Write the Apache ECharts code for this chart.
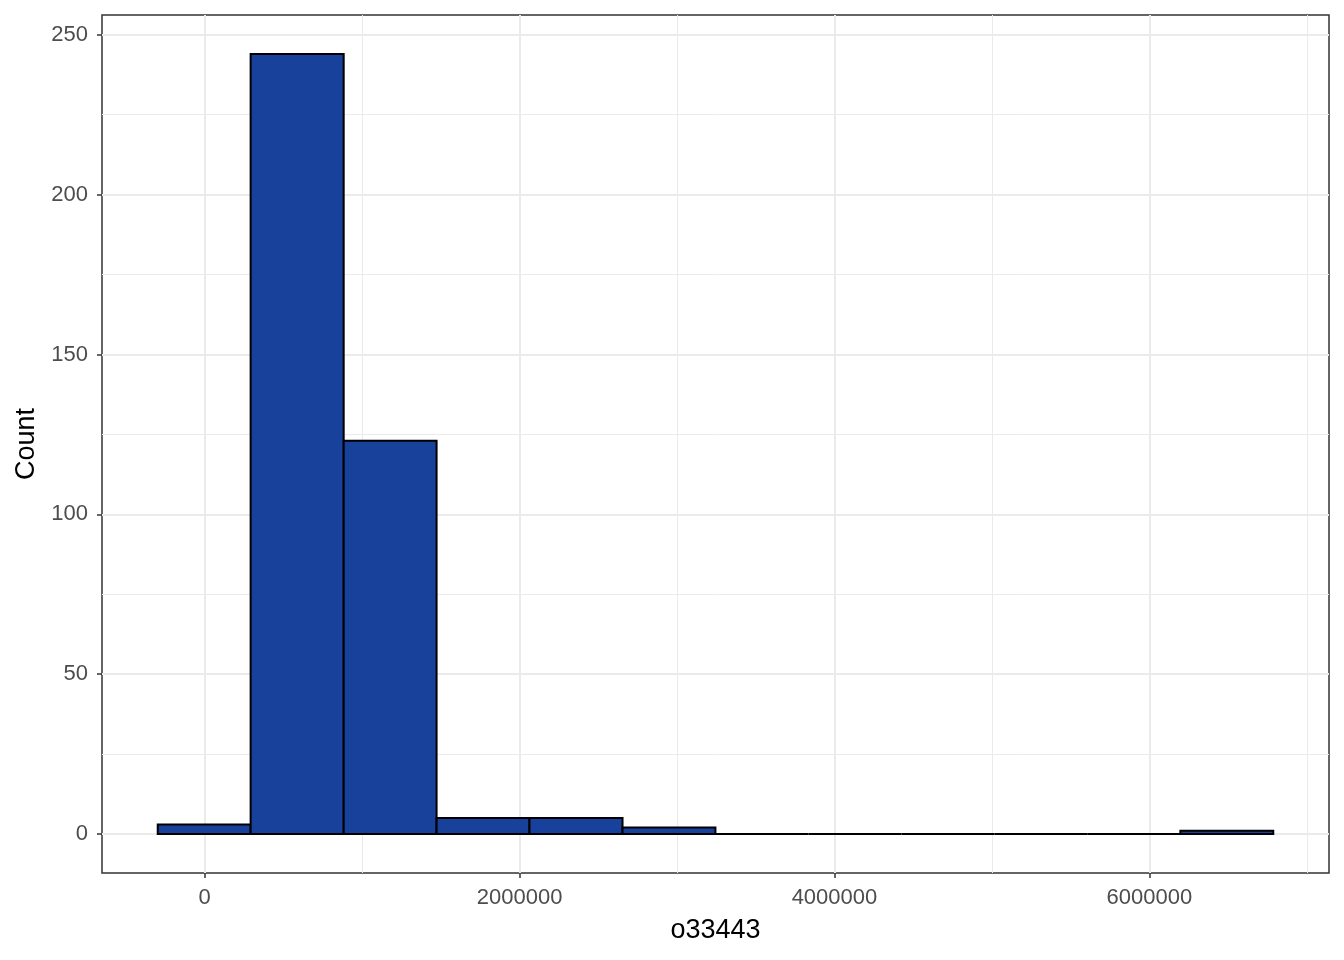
<!DOCTYPE html>
<html>
<head>
<meta charset="utf-8">
<script src="https://cdn.jsdelivr.net/npm/echarts@6/dist/echarts.min.js"></script>
<style>
html,body{margin:0;padding:0;background:#fff;}
#chart{width:1344px;height:960px;}
</style>
</head>
<body>
<div id="chart"></div>
<script>
// Histogram bins of o33443 (bin start / end edges) and counts
const binStarts = [-298000, 292000, 883000, 1473000, 2063000, 2654000, 3244000, 3835000, 4425000, 5016000, 5606000, 6197000];
const binEnds   = [292000, 883000, 1473000, 2063000, 2654000, 3244000, 3835000, 4425000, 5016000, 5606000, 6197000, 6787000];
const counts    = [3, 244, 123, 5, 5, 2, 0, 0, 0, 0, 0, 1];

const xTicks      = [0, 2000000, 4000000, 6000000];
const xMinorTicks = [1000000, 3000000, 5000000, 7000000];
const yTicks      = [0, 50, 100, 150, 200, 250];
const yMinorTicks = [25, 75, 125, 175, 225];

const xRange = [-652000, 7141000];
const yRange = [-12.2, 256.2];

const data = binStarts.map((s, i) => [s, binEnds[i], counts[i]]);

const chart = echarts.init(document.getElementById('chart'), null, {renderer: 'canvas'});
const font = 'Liberation Sans, Arial, sans-serif';

chart.setOption({
  animation: false,
  backgroundColor: '#ffffff',
  grid: {
    left: 102, right: 15, top: 15, bottom: 87,
    show: true, borderColor: '#333333', borderWidth: 1.5, backgroundColor: 'transparent'
  },
  xAxis: [{
    type: 'value', min: xRange[0], max: xRange[1], position: 'bottom',
    name: 'o33443', nameLocation: 'middle', nameGap: 44,
    nameTextStyle: {color: '#000', fontSize: 27, fontFamily: font},
    axisLine: {show: false, onZero: false},
    axisTick: {show: true, length: 5, lineStyle: {color: '#333333', width: 1.5}, customValues: xTicks},
    axisLabel: {customValues: xTicks, color: '#4D4D4D', fontSize: 22, fontFamily: font, margin: 14,
      formatter: v => String(Math.round(v))},
    splitLine: {show: true, lineStyle: {color: '#EBEBEB', width: 2}}
  }, {
    type: 'value', min: xRange[0], max: xRange[1], position: 'top',
    axisLine: {show: false, onZero: false},
    axisTick: {show: false, customValues: xMinorTicks},
    axisLabel: {show: false, customValues: xMinorTicks},
    splitLine: {show: true, lineStyle: {color: '#EBEBEB', width: 1}}
  }],
  yAxis: [{
    type: 'value', min: yRange[0], max: yRange[1], position: 'left',
    name: 'Count', nameLocation: 'middle', nameGap: 60, nameRotate: 90,
    nameTextStyle: {color: '#000', fontSize: 27, fontFamily: font},
    axisLine: {show: false, onZero: false},
    axisTick: {show: true, length: 5, lineStyle: {color: '#333333', width: 1.5}, customValues: yTicks},
    axisLabel: {customValues: yTicks, color: '#4D4D4D', fontSize: 22, fontFamily: font, margin: 14},
    splitLine: {show: true, lineStyle: {color: '#EBEBEB', width: 2}}
  }, {
    type: 'value', min: yRange[0], max: yRange[1], position: 'right',
    axisLine: {show: false, onZero: false},
    axisTick: {show: false, customValues: yMinorTicks},
    axisLabel: {show: false, customValues: yMinorTicks},
    splitLine: {show: true, lineStyle: {color: '#EBEBEB', width: 1}}
  }],
  series: [{
    type: 'custom',
    xAxisIndex: 0, yAxisIndex: 0,
    encode: {x: [0, 1], y: 2},
    data: data,
    renderItem: function (params, api) {
      const p0 = api.coord([api.value(0), 0]);
      const p1 = api.coord([api.value(1), api.value(2)]);
      return {
        type: 'rect',
        shape: {x: p0[0], y: p1[1], width: p1[0] - p0[0], height: p0[1] - p1[1]},
        style: {fill: '#17419A', stroke: '#000000', lineWidth: 2}
      };
    }
  }]
});
</script>
</body>
</html>
